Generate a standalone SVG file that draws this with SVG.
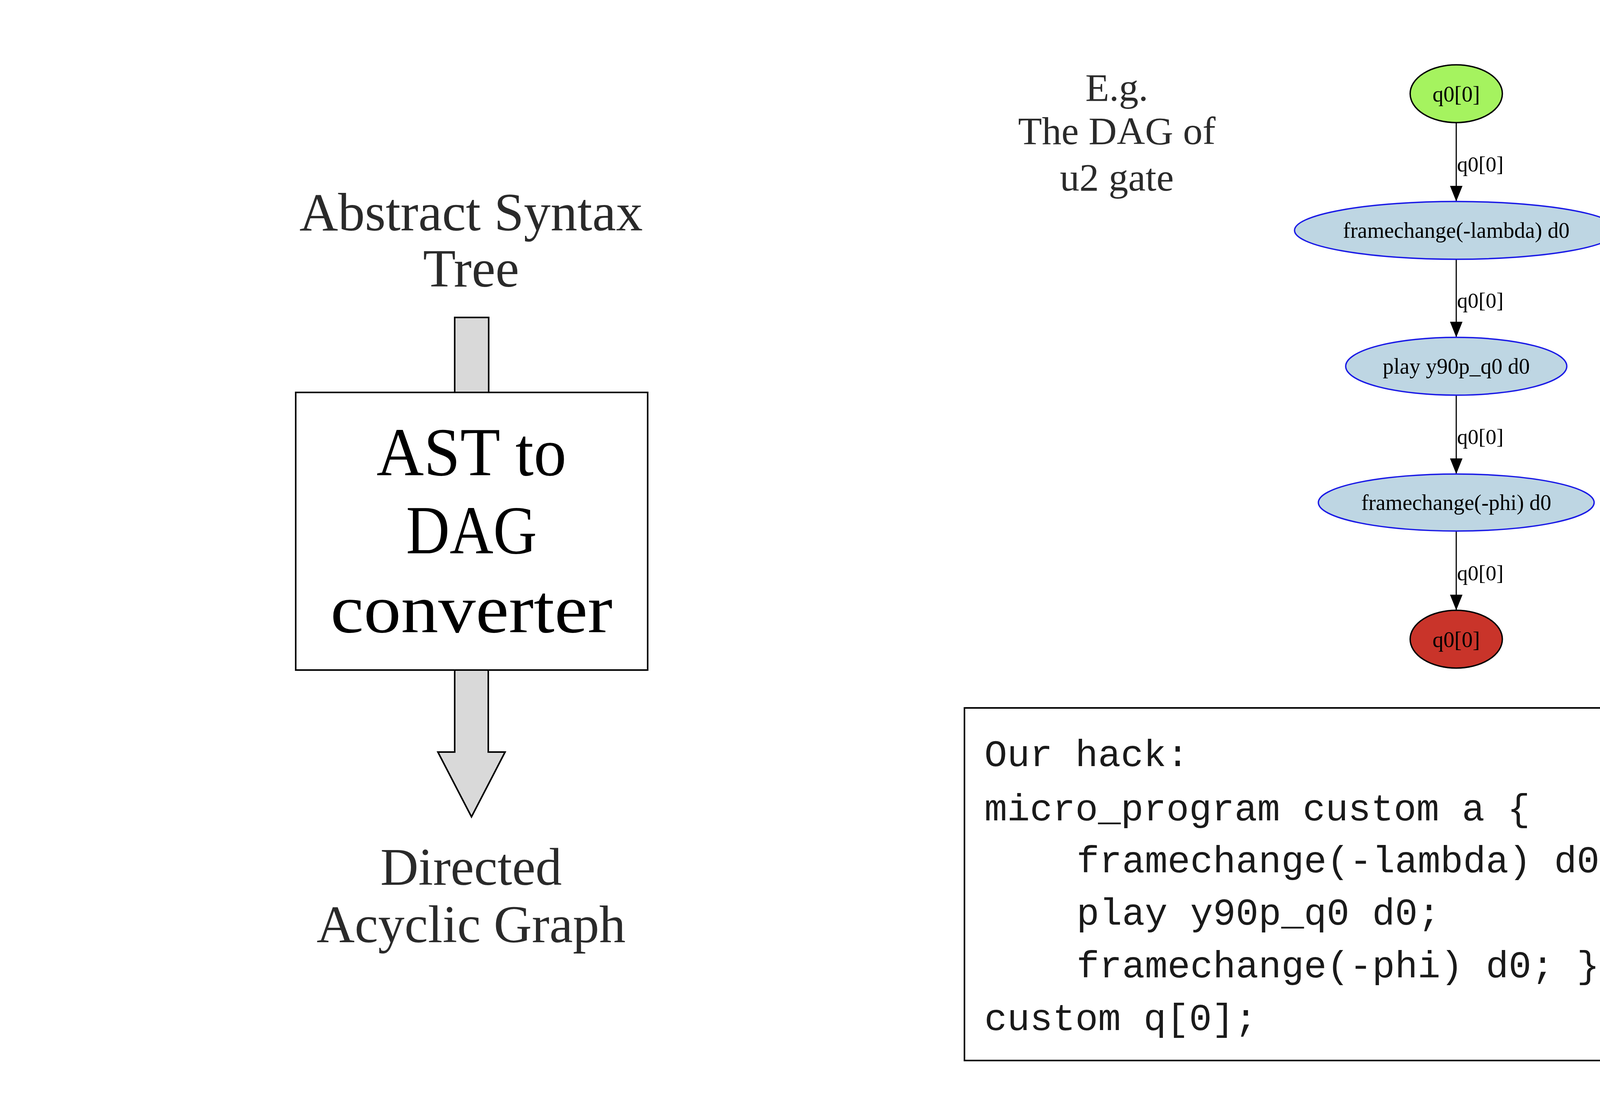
<svg xmlns="http://www.w3.org/2000/svg" width="5000" height="2812" viewBox="0 0 5000 2812">
<defs>
<style>
.title{font-family:"Liberation Serif","Times New Roman",serif;fill:#2a2a2a;text-anchor:middle}
.big{font-family:"Liberation Serif","Times New Roman",serif;fill:#000;text-anchor:middle;font-size:176px}
.fat{fill:#d9d9d9;stroke:#000;stroke-width:4}
.gv{font-family:"Liberation Serif","Times New Roman",serif;font-size:56px;fill:#000;text-anchor:middle}
.el{font-family:"Liberation Serif","Times New Roman",serif;font-size:55px;fill:#000}
.op{fill:#bed6e3;stroke:#1a1ae6;stroke-width:3.5}
.edge{stroke:#000;stroke-width:3;fill:none;marker-end:url(#ah)}
.code{font-family:"Liberation Mono","Courier New",monospace;font-size:97px;fill:#1a1a1a}
</style>
<marker id="ah" markerUnits="userSpaceOnUse" markerWidth="42" markerHeight="34" refX="40" refY="16" orient="auto">
<path d="M0,0 L40,16 L0,32 z" fill="#000"/>
</marker>
</defs>
<rect width="5000" height="2812" fill="#fff"/>

<g id="ast-label">
<text class="title" x="1206" y="590" font-size="137">Abstract Syntax</text>
<text class="title" x="1206" y="734" font-size="137">Tree</text>
</g>

<g id="arrow-in">
<rect class="fat" x="1164" y="813" width="87" height="192"/>
</g>

<g id="converter">
<rect x="757" y="1005" width="901" height="711" fill="#fff" stroke="#000" stroke-width="4"/>
<text class="big" x="1207" y="1217" textLength="486" lengthAdjust="spacingAndGlyphs">AST to</text>
<text class="big" x="1207" y="1417" textLength="335" lengthAdjust="spacingAndGlyphs">DAG</text>
<text class="big" x="1207" y="1619" textLength="722" lengthAdjust="spacingAndGlyphs">converter</text>
</g>

<g id="arrow-out">
<path class="fat" d="M1164,1716 L1164,1926 L1121,1926 L1207,2092 L1293,1926 L1250,1926 L1250,1716 Z"/>
</g>

<g id="dag-label">
<text class="title" x="1206" y="2266" font-size="135">Directed</text>
<text class="title" x="1206" y="2413" font-size="135">Acyclic Graph</text>
</g>

<g id="example-label">
<text class="title" x="2859" y="258" font-size="100">E.g.</text>
<text class="title" x="2859" y="369" font-size="100">The DAG of</text>
<text class="title" x="2859" y="488" font-size="100">u2 gate</text>
</g>

<g id="connectors">
<line class="edge" x1="3728" y1="314" x2="3728" y2="516"/>
<line class="edge" x1="3728" y1="664" x2="3728" y2="864"/>
<line class="edge" x1="3728" y1="1012" x2="3728" y2="1214"/>
<line class="edge" x1="3728" y1="1360" x2="3728" y2="1563"/>
<text class="el" x="3730" y="439">q0[0]</text>
<text class="el" x="3730" y="788">q0[0]</text>
<text class="el" x="3730" y="1137">q0[0]</text>
<text class="el" x="3730" y="1486">q0[0]</text>
</g>

<g id="n-in">
<ellipse cx="3728" cy="240" rx="118" ry="74" fill="#a5f35f" stroke="#000" stroke-width="3.5"/>
<text class="gv" x="3728" y="260">q0[0]</text>
</g>
<g id="n-fc-lambda">
<ellipse class="op" cx="3728" cy="590" rx="414" ry="74"/>
<text class="gv" x="3728" y="609">framechange(-lambda) d0</text>
</g>
<g id="n-play">
<ellipse class="op" cx="3728" cy="938" rx="283" ry="74"/>
<text class="gv" x="3728" y="957">play y90p_q0 d0</text>
</g>
<g id="n-fc-phi">
<ellipse class="op" cx="3728" cy="1287" rx="353" ry="73"/>
<text class="gv" x="3728" y="1306">framechange(-phi) d0</text>
</g>
<g id="n-out">
<ellipse cx="3728" cy="1637" rx="118" ry="74" fill="#c9342a" stroke="#000" stroke-width="3.5"/>
<text class="gv" x="3728" y="1657">q0[0]</text>
</g>

<g id="code-box">
<rect x="2469" y="1813" width="2434" height="903" fill="#fff" stroke="#000" stroke-width="4"/>
<text class="code" x="2520" y="1962">Our hack:</text>
<text class="code" x="2520" y="2101">micro_program custom a {</text>
<text class="code" x="2756" y="2234">framechange(-lambda) d0;</text>
<text class="code" x="2756" y="2368">play y90p_q0 d0;</text>
<text class="code" x="2756" y="2503">framechange(-phi) d0; }</text>
<text class="code" x="2520" y="2638">custom q[0];</text>
</g>
</svg>
